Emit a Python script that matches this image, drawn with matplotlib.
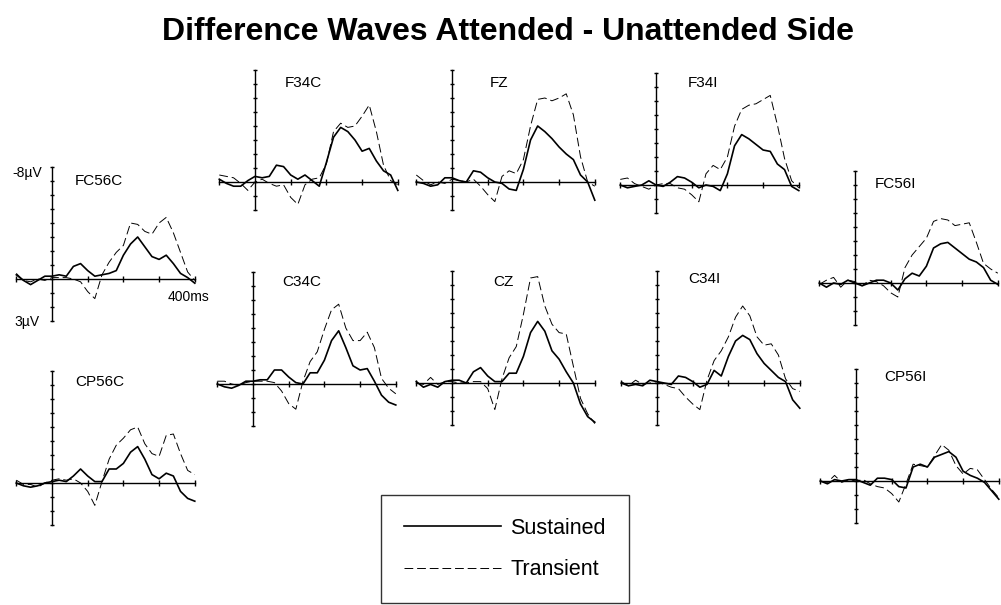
import matplotlib.pyplot as plt
from matplotlib.lines import Line2D

plt.rcParams['font.family'] = ['Liberation Sans', 'DejaVu Sans']

# sample times (ms), every 20 ms
times = list(range(-100, 401, 20))

# uV values, negative up (as in the figure)
fc56c_sus = [-0.3, 0.1, 0.4, 0.1, -0.2, -0.2, -0.3, -0.2, -0.9, -1.1, -0.6, -0.2, -0.3,
             -0.4, -0.6, -1.7, -2.5, -3.0, -2.3, -1.6, -1.4, -1.7, -1.1, -0.4, -0.1, 0.3]
fc56c_tra = [-0.4, 0.1, 0.2, 0.0, 0.1, -0.1, -0.1, -0.1, 0.0, 0.2, 0.9, 1.4, -0.3,
             -1.2, -1.9, -2.4, -4.0, -3.9, -3.4, -3.2, -4.0, -4.4, -3.3, -1.9, -0.5, 0.1]

f34c_sus = [-0.2, 0.1, 0.3, 0.3, -0.1, -0.4, -0.3, -0.4, -1.2, -1.1, -0.5, -0.2, -0.5,
            -0.1, 0.3, -1.4, -3.2, -3.9, -3.6, -3.0, -2.2, -2.4, -1.5, -0.8, -0.5, 0.6]
f34c_tra = [-0.5, -0.4, -0.3, 0.1, 0.6, 0.0, -0.2, 0.1, 0.3, 0.2, 1.1, 1.6, 0.2,
            -0.2, -0.3, -1.3, -3.6, -4.2, -3.9, -4.0, -4.7, -5.5, -3.6, -1.2, -0.1, 0.2]

fz_sus = [0.0, 0.1, 0.3, 0.2, -0.3, -0.3, -0.1, 0.0, -0.8, -0.7, -0.3, 0.0, 0.1,
          0.5, 0.6, -0.9, -3.0, -4.0, -3.6, -3.1, -2.5, -2.0, -1.6, -0.5, 0.0, 1.3]
fz_tra = [-0.5, -0.1, 0.2, 0.0, 0.1, -0.2, -0.1, 0.0, -0.2, 0.3, 0.9, 1.4, -0.4,
          -0.8, -0.6, -1.6, -4.0, -5.9, -6.0, -5.8, -6.0, -6.3, -4.8, -1.8, 0.0, 0.3]

f34i_sus = [0.0, 0.2, 0.1, 0.0, -0.3, 0.0, 0.1, -0.2, -0.6, -0.5, -0.2, 0.2, 0.0,
            0.1, 0.4, -0.8, -2.8, -3.6, -3.3, -2.9, -2.5, -2.4, -1.5, -1.1, 0.1, 0.4]
f34i_tra = [-0.4, -0.5, -0.1, 0.1, 0.3, 0.0, -0.1, -0.1, 0.2, 0.3, 0.7, 1.2, -0.8,
            -1.4, -1.1, -2.0, -4.2, -5.4, -5.7, -5.8, -6.1, -6.4, -4.3, -1.9, -0.3, 0.2]

fc56i_sus = [0.0, 0.3, 0.0, 0.1, -0.2, 0.0, 0.2, 0.0, -0.2, -0.2, 0.0, 0.5, -0.3,
             -0.7, -0.5, -1.2, -2.5, -2.8, -2.9, -2.5, -2.1, -1.7, -1.5, -1.1, -0.2, 0.1]
fc56i_tra = [0.1, -0.2, -0.4, 0.3, -0.2, -0.1, 0.2, -0.2, -0.1, 0.2, 0.7, 1.0, -1.1,
             -2.0, -2.6, -3.2, -4.4, -4.6, -4.5, -4.1, -4.2, -4.3, -2.9, -1.4, -1.0, -0.7]

cp56c_sus = [0.0, 0.2, 0.3, 0.2, 0.0, -0.1, -0.2, -0.1, -0.5, -1.0, -0.5, -0.1, -0.1,
             -1.0, -1.0, -1.4, -2.2, -2.6, -1.7, -0.6, -0.3, -0.7, -0.5, 0.6, 1.1, 1.3]
cp56c_tra = [-0.2, 0.1, 0.1, 0.3, 0.0, -0.2, -0.3, -0.2, -0.3, 0.0, 0.6, 1.6, -0.1,
             -1.7, -2.7, -3.2, -3.8, -4.0, -2.8, -2.1, -1.9, -3.4, -3.5, -2.1, -0.9, -0.6]

c34c_sus = [0.0, 0.2, 0.3, 0.1, -0.2, -0.2, -0.3, -0.3, -1.0, -1.0, -0.5, -0.1, 0.0,
            -0.8, -0.8, -1.7, -3.1, -3.8, -2.6, -1.3, -1.0, -1.1, -0.2, 0.8, 1.3, 1.5]
c34c_tra = [-0.2, -0.2, 0.0, 0.1, -0.1, -0.2, -0.2, -0.2, -0.1, 0.5, 1.4, 1.8, -0.2,
            -1.6, -2.3, -3.9, -5.3, -5.7, -4.0, -3.1, -3.1, -3.7, -2.6, -0.4, 0.3, 0.7]

cz_sus = [-0.1, 0.3, 0.1, 0.3, -0.1, -0.2, -0.2, 0.0, -0.8, -1.1, -0.5, -0.1, -0.1,
          -0.7, -0.7, -1.9, -3.6, -4.4, -3.7, -2.3, -1.7, -0.8, 0.0, 1.5, 2.4, 2.8]
cz_tra = [0.0, 0.1, -0.4, 0.1, -0.1, -0.1, 0.0, 0.0, -0.1, -0.1, 0.4, 1.9, -0.3,
          -1.8, -2.6, -4.9, -7.5, -7.6, -5.5, -4.2, -3.6, -3.5, -1.2, 1.1, 2.2, 2.9]

c34i_sus = [0.0, 0.2, 0.1, 0.2, -0.2, -0.1, 0.0, 0.1, -0.5, -0.4, -0.1, 0.3, 0.1,
            -0.9, -0.5, -1.9, -3.0, -3.4, -3.1, -2.1, -1.4, -0.9, -0.4, -0.1, 1.2, 1.8]
c34i_tra = [-0.1, 0.2, -0.2, 0.1, 0.0, -0.1, 0.1, 0.3, 0.4, 1.0, 1.5, 1.9, -0.2,
            -1.6, -2.3, -3.3, -4.7, -5.5, -4.8, -3.3, -2.7, -2.8, -2.0, -0.3, 0.4, 0.6]

cp56i_sus = [0.0, 0.2, -0.1, 0.0, -0.1, -0.1, 0.1, 0.3, -0.2, -0.2, -0.1, 0.4, 0.5,
             -1.0, -1.2, -1.0, -1.7, -1.9, -2.1, -1.7, -0.7, -0.4, -0.2, 0.1, 0.7, 1.3]
cp56i_tra = [0.0, 0.1, -0.4, 0.1, -0.1, 0.0, -0.1, 0.2, 0.4, 0.5, 0.9, 1.5, 0.2,
             -1.2, -1.1, -1.0, -1.8, -2.6, -2.2, -1.1, -0.5, -0.9, -0.8, -0.1, 0.6, 1.2]

panels = [
    ('FC56C', fc56c_sus, fc56c_tra),
    ('F34C', f34c_sus, f34c_tra),
    ('FZ', fz_sus, fz_tra),
    ('F34I', f34i_sus, f34i_tra),
    ('FC56I', fc56i_sus, fc56i_tra),
    ('CP56C', cp56c_sus, cp56c_tra),
    ('C34C', c34c_sus, c34c_tra),
    ('CZ', cz_sus, cz_tra),
    ('C34I', c34i_sus, c34i_tra),
    ('CP56I', cp56i_sus, cp56i_tra),
]

# pixel layout: y-axis x, zero-line y, lowest uV on axis, label pos (ms, uV)
layout = {
    'FC56C': (52, 279, 3, 65, -7.0),
    'F34C': (255, 182, 2, 82, -7.1),
    'FZ': (452, 182, 2, 107, -7.1),
    'F34I': (656, 185, 2, 90, -7.3),
    'FC56I': (855, 283, 3, 56, -7.1),
    'CP56C': (52, 483, 3, 65, -7.2),
    'C34C': (253, 384, 3, 82, -7.3),
    'CZ': (452, 383, 3, 115, -7.2),
    'C34I': (657, 383, 3, 87, -7.4),
    'CP56I': (856, 481, 3, 79, -7.4),
}

W, H = 1001, 605
SX = 0.357   # px per ms
SY = 14.0    # px per uV
XL, XR = -110, 410

fig = plt.figure(figsize=(W / 100, H / 100), dpi=100)
fig.text(508 / W, 1 - 32 / H, 'Difference Waves Attended - Unattended Side',
         ha='center', va='center', fontsize=23, fontweight='bold')

for name, sus, tra in panels:
    x0, y0, ybot, lx, ly = layout[name]
    yt, yb = -8.3, ybot + 0.3
    left = (x0 + XL * SX) / W
    top = y0 + yt * SY
    bottom = y0 + yb * SY
    ax = fig.add_axes([left, 1 - bottom / H, (XR - XL) * SX / W, (bottom - top) / H])
    ax.set_xlim(XL, XR)
    ax.set_ylim(yb, yt)
    ax.patch.set_visible(False)

    ax.plot(times, sus, color='black', lw=1.2, clip_on=False)
    ax.plot(times, tra, color='black', lw=0.7, dashes=(9, 4), clip_on=False)

    for s in ['top', 'right']:
        ax.spines[s].set_visible(False)
    ax.spines['left'].set_position(('data', 0))
    ax.spines['bottom'].set_position(('data', 0))
    ax.spines['left'].set_bounds(-8, ybot)
    ax.spines['bottom'].set_bounds(-100, 400)
    ax.spines['left'].set_linewidth(1.0)
    ax.spines['bottom'].set_linewidth(1.0)
    ax.set_xticks([-100, 100, 200, 300, 400])
    ax.set_yticks(list(range(-8, ybot + 1)))
    ax.set_xticklabels([])
    ax.set_yticklabels([])
    ax.tick_params(axis='x', direction='inout', length=5, width=1.0)
    ax.tick_params(axis='y', direction='inout', length=3, width=1.0)

    ax.text(lx, ly, name, fontsize=11, ha='left', va='center')

    if name == 'FC56C':
        ax.text(-28, -7.6, '-8µV', fontsize=10, ha='right', va='center', clip_on=False)
        ax.text(-34, 3.1, '3µV', fontsize=10, ha='right', va='center', clip_on=False)
        ax.text(324, 1.3, '400ms', fontsize=10, ha='left', va='center', clip_on=False)

handles = [Line2D([], [], color='black', lw=1.2),
           Line2D([], [], color='black', lw=0.7, dashes=(9, 4))]
leg = fig.legend(handles, ['Sustained', 'Transient'], loc='center',
                 bbox_to_anchor=(505 / W, 1 - 549 / H), frameon=True, fancybox=False,
                 edgecolor='black', fontsize=15.5, handlelength=4.5, handletextpad=0.45,
                 labelspacing=0.95, borderpad=1.05)
leg.get_frame().set_linewidth(1.0)

fig.savefig('out.png', dpi=100, facecolor='white')
